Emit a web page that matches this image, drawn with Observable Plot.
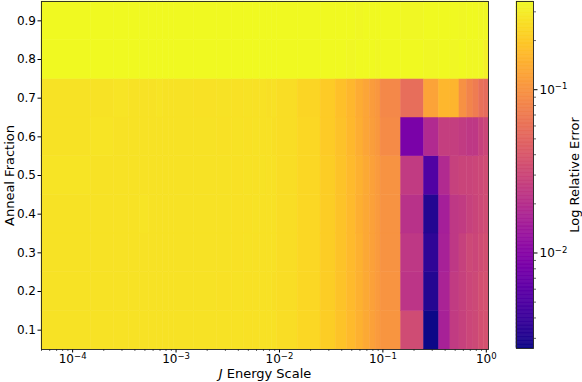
<!DOCTYPE html>
<html>
<head>
<meta charset="utf-8">
<script src="https://cdn.jsdelivr.net/npm/d3@7"></script>
<script src="https://cdn.jsdelivr.net/npm/@observablehq/plot@0.6"></script>
<style>
  html, body { margin: 0; padding: 0; background: #fff; }
  #wrap { position: relative; width: 582px; height: 382px; font-family: "DejaVu Sans", sans-serif; }
  #main, #cbar { position: absolute; top: 0; }
  #main { left: 0; }
  #cbar { left: 500px; }
  svg { overflow: visible; }
  svg g[aria-label*="tick label"] { font-size: 12px; }
</style>
</head>
<body>
<div id="wrap"><div id="main"></div><div id="cbar"></div></div>
<script>
// J energy scale (column centres)
const jScale = [
  0.0001, 0.0002, 0.0003, 0.0004, 0.0005, 0.0006, 0.0007, 0.0008, 0.0009,
  0.001, 0.002, 0.003, 0.004, 0.005, 0.006, 0.007, 0.008, 0.009,
  0.01, 0.02, 0.03, 0.04, 0.05, 0.06, 0.07, 0.08, 0.09,
  0.1, 0.2, 0.3, 0.4, 0.5, 0.6, 0.7, 0.8, 0.9, 1.0
];
// Anneal fraction (row centres)
const annealFraction = [0.1, 0.2, 0.3, 0.4, 0.5, 0.6, 0.7, 0.8, 0.9];

// Relative error, one array per anneal fraction
const err01 = [0.270,0.268,0.270,0.267,0.269,0.268,0.270,0.267,0.268, 0.269,0.266,0.267,0.266,0.264,0.265,0.263,0.262,0.261,
  0.255,0.236,0.21,0.186,0.166,0.147,0.134,0.121,0.112, 0.104,0.033,0.0026,0.0159,0.0246,0.027,0.030,0.031,0.0345,0.036];
const err02 = [0.269,0.270,0.268,0.269,0.267,0.270,0.268,0.266,0.270, 0.268,0.267,0.265,0.266,0.265,0.264,0.262,0.263,0.260,
  0.254,0.235,0.21,0.186,0.166,0.147,0.134,0.121,0.112, 0.101,0.0222,0.0031,0.0166,0.0246,0.027,0.030,0.031,0.0345,0.036];
const err03 = [0.270,0.269,0.267,0.270,0.268,0.270,0.267,0.268,0.269, 0.267,0.266,0.268,0.264,0.266,0.263,0.265,0.262,0.261,
  0.255,0.236,0.21,0.186,0.166,0.147,0.133,0.121,0.111, 0.100,0.0234,0.0035,0.0159,0.0234,0.027,0.031,0.030,0.033,0.0345];
const err04 = [0.268,0.270,0.269,0.267,0.271,0.268,0.266,0.269,0.270, 0.266,0.268,0.267,0.265,0.264,0.266,0.263,0.261,0.264,
  0.254,0.235,0.209,0.185,0.165,0.146,0.133,0.12,0.111, 0.100,0.0212,0.0031,0.0151,0.0234,0.0246,0.027,0.0285,0.031,0.033];
const err05 = [0.271,0.267,0.270,0.268,0.269,0.266,0.270,0.268,0.267, 0.269,0.266,0.268,0.265,0.267,0.264,0.266,0.262,0.263,
  0.255,0.236,0.21,0.186,0.166,0.148,0.134,0.121,0.112, 0.100,0.0246,0.0051,0.0183,0.027,0.0285,0.0285,0.030,0.031,0.033];
const err06 = [0.269,0.271,0.267,0.270,0.266,0.269,0.268,0.270,0.266, 0.267,0.269,0.264,0.267,0.263,0.266,0.261,0.264,0.259,
  0.253,0.233,0.207,0.182,0.162,0.142,0.128,0.116,0.107, 0.088,0.0084,0.0185,0.026,0.026,0.0246,0.0234,0.0234,0.0271,0.030];
const err07 = [0.270,0.268,0.272,0.266,0.270,0.268,0.271,0.267,0.269, 0.268,0.265,0.269,0.264,0.266,0.262,0.265,0.260,0.262,
  0.252,0.232,0.205,0.180,0.160,0.140,0.126,0.114,0.106, 0.085,0.057,0.125,0.160,0.158,0.097,0.080,0.072,0.059,0.056];
const err08 = [0.344,0.346,0.343,0.345,0.342,0.345,0.343,0.346,0.344, 0.343,0.345,0.342,0.344,0.343,0.345,0.342,0.344,0.341,
  0.342,0.344,0.341,0.343,0.340,0.342,0.341,0.343,0.340, 0.341,0.342,0.340,0.341,0.339,0.341,0.340,0.338,0.336,0.312];
const err09 = [0.345,0.343,0.347,0.342,0.345,0.344,0.346,0.343,0.345, 0.344,0.342,0.345,0.343,0.344,0.341,0.344,0.342,0.343,
  0.343,0.341,0.344,0.342,0.343,0.340,0.343,0.341,0.342, 0.342,0.340,0.343,0.341,0.342,0.340,0.342,0.341,0.340,0.339];
const errorRows = [err01, err02, err03, err04, err05, err06, err07, err08, err09];

const xTicks = [1e-4, 1e-3, 1e-2, 1e-1, 1];
const cbarTicks = [1e-2, 1e-1];

// cell edges: midpoints between neighbouring centres (pcolormesh style)
function edges(c) {
  const e = [c[0] - (c[1] - c[0]) / 2];
  for (let i = 0; i < c.length - 1; i++) e.push((c[i] + c[i + 1]) / 2);
  e.push(c[c.length - 1] + (c[c.length - 1] - c[c.length - 2]) / 2);
  return e;
}
const xe = edges(jScale), ye = edges(annealFraction);

const cells = [];
annealFraction.forEach((a, r) => {
  jScale.forEach((j, c) => {
    cells.push({x1: xe[c], x2: xe[c + 1], y1: ye[r], y2: ye[r + 1], value: errorRows[r][c]});
  });
});
const extent = d3.extent(cells, d => d.value);

// "10^e" label; turned into a real superscript after rendering
const pow10 = d => "10^" + String(Math.round(Math.log10(d))).replace("-", "\u2212");

function minorTicks(lo, hi) {
  const out = [];
  for (let e = Math.floor(Math.log10(lo)); e <= Math.ceil(Math.log10(hi)); e++) {
    for (let m = 2; m <= 9; m++) {
      const v = m * Math.pow(10, e);
      if (v >= lo && v <= hi) out.push(v);
    }
  }
  return out;
}

function superscripts(svg) {
  const ns = "http://www.w3.org/2000/svg";
  svg.querySelectorAll("text").forEach(t => {
    const m = /^10\^(.+)$/.exec(t.textContent);
    if (!m) return;
    t.textContent = "10";
    const s = document.createElementNS(ns, "tspan");
    s.setAttribute("font-size", "8.5px");
    s.setAttribute("dy", "-0.5em");
    s.textContent = m[1];
    t.appendChild(s);
  });
  svg.querySelectorAll('g[aria-label*="tick label"] text').forEach(t => { t.style.fontSize = "12px"; });
}

const font = "DejaVu Sans, sans-serif";

const main = Plot.plot({
  width: 500, height: 382,
  marginLeft: 41, marginRight: 12, marginTop: 1, marginBottom: 33,
  style: {fontFamily: font, fontSize: "12px", color: "#000", background: "#fff", overflow: "visible"},
  x: {type: "log", domain: [xe[0], xe[xe.length - 1]]},
  y: {domain: [ye[0], ye[ye.length - 1]]},
  color: {type: "log", scheme: "plasma", domain: extent},
  marks: [
    Plot.rect(cells, {x1: "x1", x2: "x2", y1: "y1", y2: "y2", fill: "value", stroke: "value", strokeWidth: 0.5}),
    Plot.axisX({ticks: xTicks, tickFormat: pow10, tickSize: 3.5, tickPadding: 1.5, label: null, fontSize: 12}),
    Plot.axisX({ticks: minorTicks(xe[0], xe[xe.length - 1]), tickFormat: () => "", tickSize: 2, strokeWidth: 0.6, label: null}),
    Plot.axisY({ticks: annealFraction, tickFormat: d => d.toFixed(1), tickSize: 3.5, tickPadding: 2, label: null, fontSize: 12}),
    Plot.frame({stroke: "#222", strokeWidth: 0.9}),
    Plot.text(["J Energy Scale"], {frameAnchor: "bottom", dy: 24.5, lineAnchor: "middle", textAnchor: "middle", fontSize: 13}),
    Plot.text(["Anneal Fraction"], {frameAnchor: "left", dx: -32, rotate: -90, lineAnchor: "middle", textAnchor: "middle", fontSize: 13})
  ]
});
document.getElementById("main").appendChild(main);
superscripts(main);
// italic J in the x label
main.querySelectorAll("text").forEach(t => {
  if (t.textContent === "J Energy Scale") {
    t.textContent = "";
    const ns = "http://www.w3.org/2000/svg";
    const a = document.createElementNS(ns, "tspan");
    a.setAttribute("font-style", "italic");
    a.textContent = "J";
    const b = document.createElementNS(ns, "tspan");
    b.textContent = " Energy Scale";
    t.appendChild(a); t.appendChild(b);
  }
});

// colorbar ramp
const nSteps = 256;
const ramp = d3.range(nSteps).map(i => {
  const lo = Math.log10(extent[0]), hi = Math.log10(extent[1]);
  return {y1: Math.pow(10, lo + (hi - lo) * i / nSteps), y2: Math.pow(10, lo + (hi - lo) * (i + 1) / nSteps)};
});

const cbar = Plot.plot({
  width: 82, height: 382,
  marginLeft: 16, marginRight: 49, marginTop: 1, marginBottom: 34,
  style: {fontFamily: font, fontSize: "12px", color: "#000", background: "transparent", overflow: "visible"},
  x: {domain: [0, 1], axis: null},
  y: {type: "log", domain: extent},
  color: {type: "log", scheme: "plasma", domain: extent},
  marks: [
    Plot.rect(ramp, {x1: 0, x2: 1, y1: "y1", y2: "y2", fill: d => Math.sqrt(d.y1 * d.y2), stroke: d => Math.sqrt(d.y1 * d.y2), strokeWidth: 0.6}),
    Plot.axisY({anchor: "right", ticks: cbarTicks, tickFormat: pow10, tickSize: 3.5, tickPadding: 2.5, label: null, fontSize: 12}),
    Plot.axisY({anchor: "right", ticks: minorTicks(extent[0], extent[1]), tickFormat: () => "", tickSize: 2, strokeWidth: 0.6, label: null}),
    Plot.frame({stroke: "#222", strokeWidth: 0.9}),
    Plot.text(["Log Relative Error"], {frameAnchor: "right", dx: 41, rotate: -90, lineAnchor: "middle", textAnchor: "middle", fontSize: 13})
  ]
});
document.getElementById("cbar").appendChild(cbar);
superscripts(cbar);
</script>
</body>
</html>
